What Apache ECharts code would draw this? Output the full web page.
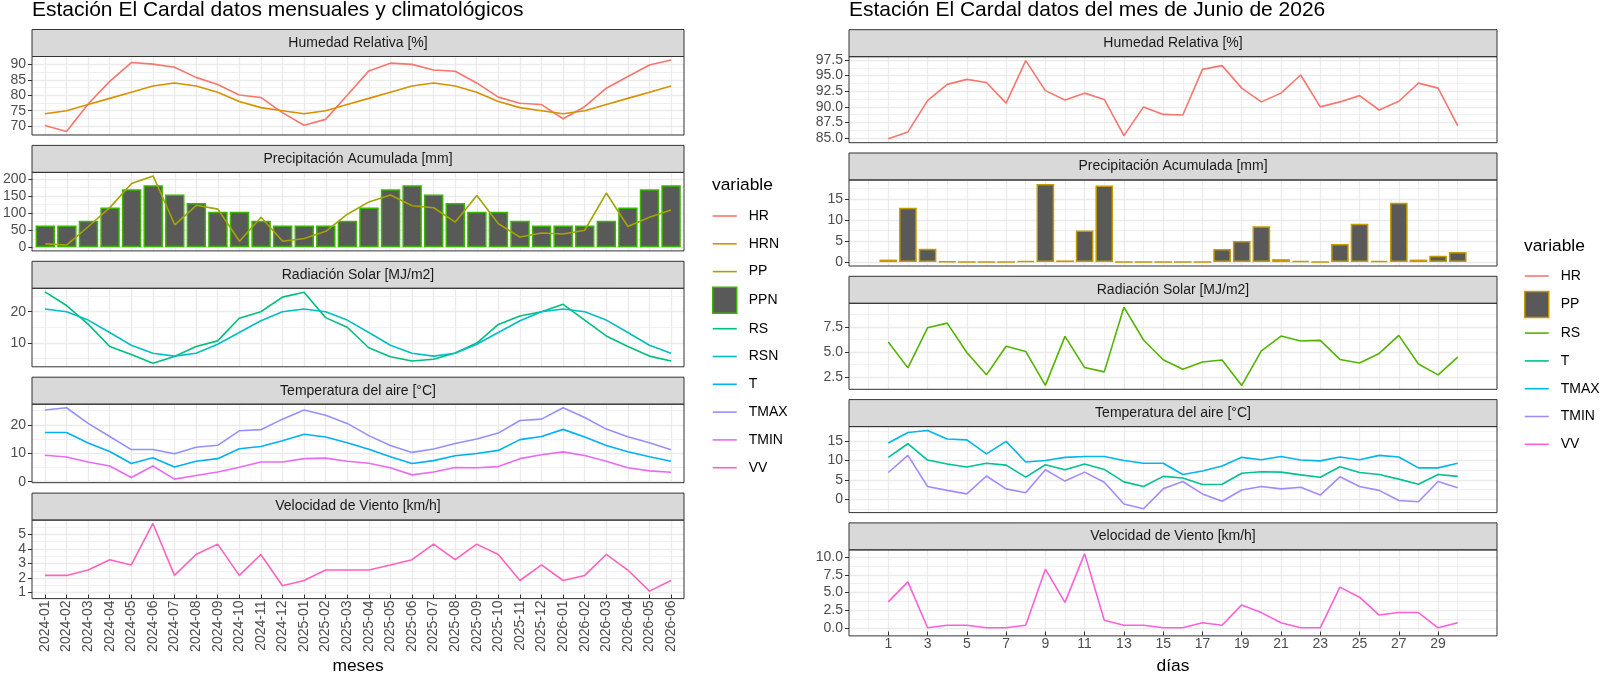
<!DOCTYPE html>
<html>
<head>
<meta charset="utf-8">
<script src="https://cdn.jsdelivr.net/npm/echarts@6/dist/echarts.min.js"></script>
<style>
  html, body { margin: 0; padding: 0; background: #fff; }
  #chart { width: 1600px; height: 676px; }
</style>
</head>
<body>
<div id="chart"></div>
<script>
// ---------------- datos mensuales (2024-01 .. 2026-06)
var meses = ['2024-01','2024-02','2024-03','2024-04','2024-05','2024-06','2024-07','2024-08','2024-09','2024-10','2024-11','2024-12',
             '2025-01','2025-02','2025-03','2025-04','2025-05','2025-06','2025-07','2025-08','2025-09','2025-10','2025-11','2025-12',
             '2026-01','2026-02','2026-03','2026-04','2026-05','2026-06'];
var hr   = [70.2, 68.3, 77.2, 84.5, 90.6, 90.1, 89.1, 85.8, 83.5, 80.1, 79.3, 74.4, 70.3, 72.2, 80.0, 87.9, 90.4, 90.0, 88.2, 87.8, 84.0, 79.4, 77.4, 77.0, 72.4, 76.3, 82.3, 86.1, 89.8, 91.4];
var hrn  = [74, 75, 77, 79, 81, 83, 84, 83, 81, 78, 76, 75, 74, 75, 77, 79, 81, 83, 84, 83, 81, 78, 76, 75, 74, 75, 77, 79, 81, 83];
var pp   = [10, 7, 61, 117, 187, 209, 66, 123, 112, 18, 88, 18, 26, 47, 97, 133, 153, 122, 116, 74, 152, 69, 30, 42, 39, 50, 159, 61, 88, 109];
var ppn  = [64, 64, 78, 117, 170, 182, 155, 130, 104, 104, 78, 64, 64, 64, 78, 117, 170, 182, 155, 130, 104, 104, 78, 64, 64, 64, 78, 117, 170, 182];
var rs   = [26.4, 22.0, 16.0, 8.8, 6.2, 3.4, 5.6, 8.8, 10.6, 17.9, 20.0, 24.7, 26.3, 18.1, 15.0, 8.4, 5.5, 4.1, 4.7, 6.7, 9.9, 15.9, 18.6, 20.0, 22.4, 17.3, 12.2, 8.8, 5.7, 4.1];
var rsn  = [20.9, 20.0, 17.3, 13.3, 9.2, 6.6, 5.7, 6.6, 9.5, 13.3, 17.1, 20.0, 20.9, 20.0, 17.3, 13.3, 9.2, 6.6, 5.7, 6.6, 9.5, 13.3, 17.1, 20.0, 20.9, 20.0, 17.3, 13.3, 9.2, 6.6];
var t    = [17.3, 17.3, 13.6, 10.6, 6.4, 8.4, 5.2, 7.2, 8.1, 11.6, 12.4, 14.4, 16.7, 15.7, 13.7, 11.4, 8.8, 6.4, 7.4, 9.1, 9.9, 11.0, 14.8, 15.9, 18.4, 15.7, 12.7, 10.5, 8.8, 7.2];
var tmax = [25.2, 26.0, 20.5, 15.9, 11.3, 11.3, 9.8, 12.1, 12.8, 17.9, 18.3, 22.0, 25.2, 23.4, 20.5, 16.2, 12.7, 10.3, 11.5, 13.4, 15.0, 17.1, 21.5, 22.0, 26.0, 22.6, 18.5, 15.8, 13.7, 11.2];
var tmin = [9.3, 8.7, 6.9, 5.5, 1.5, 5.5, 0.9, 2.2, 3.4, 5.1, 6.9, 6.9, 8.1, 8.3, 7.2, 6.5, 4.9, 2.4, 3.4, 5.0, 4.9, 5.3, 8.1, 9.5, 10.5, 9.2, 7.2, 4.9, 3.8, 3.3];
var vv   = [2.18, 2.18, 2.55, 3.26, 2.9, 5.75, 2.18, 3.62, 4.33, 2.18, 3.62, 1.47, 1.83, 2.55, 2.55, 2.55, 2.9, 3.26, 4.33, 3.26, 4.33, 3.62, 1.83, 2.9, 1.83, 2.18, 3.62, 2.55, 1.1, 1.83];

// ---------------- datos diarios de junio 2026
var dias  = [1,2,3,4,5,6,7,8,9,10,11,12,13,14,15,16,17,18,19,20,21,22,23,24,25,26,27,28,29,30];
var hrD   = [84.9, 86.0, 91.0, 93.6, 94.4, 93.9, 90.6, 97.4, 92.6, 91.1, 92.2, 91.2, 85.4, 90.0, 88.8, 88.7, 96.0, 96.6, 93.0, 90.8, 92.2, 95.1, 90.0, 90.8, 91.8, 89.5, 90.9, 93.8, 93.0, 87.0];
var ppD   = [0.6, 12.9, 3.2, 0.15, 0, 0, 0, 0.3, 18.6, 0.4, 7.5, 18.2, 0, 0, 0, 0, 0, 3.1, 5.0, 8.5, 0.7, 0.3, 0, 4.3, 9.1, 0.3, 14.1, 0.6, 1.5, 2.4];
var rsD   = [6.0, 3.4, 7.43, 7.9, 4.95, 2.7, 5.58, 5.05, 1.64, 6.57, 3.43, 3.0, 9.5, 6.2, 4.22, 3.26, 3.99, 4.19, 1.64, 5.12, 6.6, 6.1, 6.17, 4.25, 3.89, 4.85, 6.67, 3.79, 2.7, 4.48];
var tD    = [10.8, 14.3, 10.1, 9.1, 8.3, 9.3, 8.8, 5.7, 8.9, 7.6, 9.1, 7.7, 4.5, 3.3, 5.9, 5.5, 3.8, 3.9, 6.7, 7.1, 7.0, 6.3, 5.7, 8.4, 6.9, 6.4, 5.2, 3.9, 6.4, 5.9];
var tmaxD = [14.5, 17.2, 17.7, 15.5, 15.3, 11.7, 14.9, 9.6, 10.0, 10.8, 11.0, 11.0, 10.0, 9.3, 9.3, 6.4, 7.3, 8.6, 10.8, 10.2, 11.0, 10.1, 9.9, 10.9, 10.2, 11.3, 10.9, 8.1, 8.1, 9.3];
var tminD = [6.9, 11.3, 3.3, 2.3, 1.4, 6.0, 2.7, 1.7, 7.6, 4.7, 7.0, 4.4, -1.2, -2.4, 2.7, 4.6, 1.4, -0.5, 2.4, 3.3, 2.7, 3.1, 1.1, 5.8, 3.3, 2.3, -0.3, -0.6, 4.6, 3.0];
var vvD   = [3.67, 6.5, 0, 0.36, 0.36, 0, 0, 0.36, 8.3, 3.6, 10.5, 1.07, 0.36, 0.36, 0, 0, 0.72, 0.36, 3.24, 2.15, 0.72, 0, 0, 5.76, 4.33, 1.8, 2.16, 2.16, 0, 0.72];

// ---------------- estilo y disposición
var FONT = '"Liberation Sans", Arial, sans-serif';
var STRIP = 27;
var LADO_M = { left: 32, width: 652, top0: 56.5, step: 115.9, height: 78.5 };  // mensual
var LADO_D = { left: 849, width: 648, top0: 56.7, step: 123.3, height: 86 };   // diario
// línea de leyenda: los puntos sueltos arriba y abajo fijan la caja del icono
var LINE_ICON = 'path://M0,0L0,0M0,12.2H24V13.8H0ZM0,26L0,26';

var paneles = [
  { lado: LADO_M, fila: 0, titulo: 'Humedad Relativa [%]', paso: 5, dec: 0,
    series: [['HR', hr, '#F8766D'], ['HRN', hrn, '#D89000']] },
  { lado: LADO_M, fila: 1, titulo: 'Precipitación Acumulada [mm]', paso: 50, dec: 0,
    barras: ['PPN', ppn, '#39B600'], series: [['PP', pp, '#A3A500']] },
  { lado: LADO_M, fila: 2, titulo: 'Radiación Solar [MJ/m2]', paso: 10, dec: 0,
    series: [['RS', rs, '#00BF7D'], ['RSN', rsn, '#00BFC4']] },
  { lado: LADO_M, fila: 3, titulo: 'Temperatura del aire [°C]', paso: 10, dec: 0,
    series: [['T', t, '#00B0F6'], ['TMAX', tmax, '#9590FF'], ['TMIN', tmin, '#E76BF3']] },
  { lado: LADO_M, fila: 4, titulo: 'Velocidad de Viento [km/h]', paso: 1, dec: 0,
    series: [['VV', vv, '#FF62BC']] },

  { lado: LADO_D, fila: 0, titulo: 'Humedad Relativa [%]', paso: 2.5, dec: 1,
    series: [['HR (d)', hrD, '#F8766D']] },
  { lado: LADO_D, fila: 1, titulo: 'Precipitación Acumulada [mm]', paso: 5, dec: 0,
    barras: ['PP (d)', ppD, '#C49A00'], series: [] },
  { lado: LADO_D, fila: 2, titulo: 'Radiación Solar [MJ/m2]', paso: 2.5, dec: 1,
    series: [['RS (d)', rsD, '#53B400']] },
  { lado: LADO_D, fila: 3, titulo: 'Temperatura del aire [°C]', paso: 5, dec: 0,
    series: [['T (d)', tD, '#00C094'], ['TMAX (d)', tmaxD, '#00B6EB'], ['TMIN (d)', tminD, '#A58AFF']] },
  { lado: LADO_D, fila: 4, titulo: 'Velocidad de Viento [km/h]', paso: 2.5, dec: 1,
    series: [['VV (d)', vvD, '#FB61D7']] }
];

// rango con expansión del 5% (como ggplot)
function rango(arrs, conCero) {
  var lo = Infinity, hi = -Infinity;
  arrs.forEach(function (a) { a.forEach(function (v) { lo = Math.min(lo, v); hi = Math.max(hi, v); }); });
  if (conCero) { lo = Math.min(lo, 0); hi = Math.max(hi, 0); }
  var pad = (hi - lo) * 0.05;
  return [lo - pad, hi + pad];
}
function multiplos(min, max, paso) {
  var out = [];
  for (var k = Math.ceil(min / paso - 1e-9); k * paso <= max + 1e-9; k++) out.push(+(k * paso).toFixed(6));
  return out;
}
function esMultiplo(v, paso) {
  return Math.abs(v / paso - Math.round(v / paso)) < 1e-6;
}

var indices = meses.map(function (m, i) { return i; });
var impares = dias.filter(function (d) { return d % 2 === 1; });

var grids = [], xAxes = [], yAxes = [], series = [], graphics = [];

paneles.forEach(function (p, k) {
  var lado = p.lado;
  var top = lado.top0 + lado.step * p.fila;
  var mensual = lado === LADO_M;
  var ultimo = p.fila === 4;

  grids.push({ left: lado.left, top: top, width: lado.width, height: lado.height, show: false });

  // eje x
  var xmin = mensual ? -0.6 : -1, xmax = mensual ? 29.6 : 32;
  var xa = {
    type: 'value', gridIndex: k, min: xmin, max: xmax,
    axisLine: { show: false, onZero: false },
    axisTick: { show: ultimo, length: 4, lineStyle: { color: '#333333' },
                customValues: mensual ? indices : impares },
    axisLabel: { show: ultimo, fontSize: 14, color: '#4D4D4D', fontFamily: FONT, margin: 6,
                 showMinLabel: true, showMaxLabel: true,
                 customValues: mensual ? indices : impares,
                 rotate: mensual ? 90 : 0,
                 formatter: mensual ? function (v) { return Number.isInteger(v) ? meses[v] : ''; }
                                    : function (v) { return (v >= 1 && v <= 29 && v % 2 === 1) ? String(v) : ''; } },
    splitLine: { show: true, lineStyle: { color: '#EBEBEB', width: 1.3 } },
    minorTick: { show: false, splitNumber: 2 },
    minorSplitLine: { show: !mensual, lineStyle: { color: '#EBEBEB', width: 0.7 } }
  };
  if (mensual) { xa.minInterval = 1; xa.maxInterval = 1; } else { xa.interval = 2; }
  if (ultimo) {
    xa.name = mensual ? 'meses' : 'días';
    xa.nameLocation = 'middle';
    xa.nameMoveOverlap = false;
    xa.nameGap = mensual ? 72 : 35;
    xa.nameTextStyle = { fontSize: 17.4, color: '#000000', fontFamily: FONT, verticalAlign: 'middle' };
  }
  xAxes.push(xa);

  // eje y
  var datos = p.series.map(function (s) { return s[1]; });
  if (p.barras) datos.push(p.barras[1]);
  var r = rango(datos, !!p.barras);
  var marcas = multiplos(r[0], r[1], p.paso);
  yAxes.push({
    type: 'value', gridIndex: k, min: r[0], max: r[1],
    minInterval: p.paso, maxInterval: p.paso,
    axisLine: { show: false, onZero: false },
    axisTick: { show: true, length: 4, lineStyle: { color: '#333333' }, customValues: marcas },
    axisLabel: { fontSize: 14, color: '#4D4D4D', fontFamily: FONT, margin: 6, customValues: marcas,
                 showMinLabel: true, showMaxLabel: true, hideOverlap: false,
                 formatter: function (v) { return esMultiplo(v, p.paso) ? v.toFixed(p.dec) : ''; } },
    splitLine: { show: true, lineStyle: { color: '#EBEBEB', width: 1.3 } },
    minorTick: { show: false, splitNumber: 2 },
    minorSplitLine: { show: true, lineStyle: { color: '#EBEBEB', width: 0.7 } }
  });

  var xs = mensual ? indices : dias;
  var anchoBanda = lado.width / (xmax - xmin);
  if (p.barras) {
    series.push({
      name: p.barras[0], type: 'bar', xAxisIndex: k, yAxisIndex: k,
      barWidth: anchoBanda * 0.9,
      itemStyle: { color: '#595959', borderColor: p.barras[2], borderWidth: 1.5 },
      data: p.barras[1].map(function (v, i) { return [xs[i], v]; })
    });
  }
  p.series.forEach(function (s) {
    series.push({
      name: s[0], type: 'line', xAxisIndex: k, yAxisIndex: k,
      symbol: 'none', color: s[2],
      lineStyle: { color: s[2], width: 1.6 },
      data: s[1].map(function (v, i) { return [xs[i], v]; })
    });
  });

  // franja del facet y borde del panel
  graphics.push({ type: 'rect', z: 50, silent: true,
    shape: { x: lado.left, y: top - STRIP, width: lado.width, height: STRIP },
    style: { fill: '#D9D9D9', stroke: '#333333', lineWidth: 1 } });
  graphics.push({ type: 'text', z: 51, silent: true,
    x: lado.left + lado.width / 2, y: top - STRIP / 2,
    style: { text: p.titulo, fill: '#1A1A1A', fontSize: 14, fontFamily: FONT, align: 'center', verticalAlign: 'middle' } });
  graphics.push({ type: 'rect', z: 60, silent: true,
    shape: { x: lado.left, y: top, width: lado.width, height: lado.height },
    style: { fill: 'none', stroke: '#333333', lineWidth: 1 } });
});

// títulos de las leyendas
graphics.push({ type: 'text', z: 51, x: 712, y: 185,
  style: { text: 'variable', fill: '#000', fontSize: 17.4, fontFamily: FONT, verticalAlign: 'middle' } });
graphics.push({ type: 'text', z: 51, x: 1524, y: 246,
  style: { text: 'variable', fill: '#000', fontSize: 17.4, fontFamily: FONT, verticalAlign: 'middle' } });

function itemsLeyenda(lista) {
  var out = [];
  lista.forEach(function (p) {
    if (p.barras) out.push({ name: p.barras[0], icon: 'rect',
      itemStyle: { color: '#595959', borderColor: p.barras[2], borderWidth: 1.5 } });
    p.series.forEach(function (s) {
      out.push({ name: s[0], icon: LINE_ICON, itemStyle: { color: s[2], borderWidth: 0 } });
    });
  });
  return out.sort(function (a, b) { return a.name < b.name ? -1 : 1; });
}

function leyenda(left, top, lista) {
  return {
    orient: 'vertical', left: left, top: top, padding: 0,
    itemWidth: 24, itemHeight: 26, itemGap: 1.8, selectedMode: false,
    textStyle: { fontSize: 14, color: '#000', fontFamily: FONT, padding: [0, 0, 0, 7] },
    formatter: function (n) { return n.split(' ')[0]; },
    data: itemsLeyenda(lista)
  };
}

var chart = echarts.init(document.getElementById('chart'), null, { renderer: 'canvas' });
chart.setOption({
  animation: false,
  backgroundColor: '#ffffff',
  textStyle: { fontFamily: FONT },
  title: [
    { text: 'Estación El Cardal datos mensuales y climatológicos', left: 32, top: 0, padding: 0,
      textStyle: { fontSize: 21, fontWeight: 'normal', color: '#000', fontFamily: FONT } },
    { text: 'Estación El Cardal datos del mes de Junio de 2026', left: 849, top: 0, padding: 0,
      textStyle: { fontSize: 21, fontWeight: 'normal', color: '#000', fontFamily: FONT } }
  ],
  legend: [
    leyenda(712, 203, paneles.slice(0, 5)),
    leyenda(1524, 263, paneles.slice(5))
  ],
  grid: grids,
  xAxis: xAxes,
  yAxis: yAxes,
  series: series,
  graphic: { elements: graphics }
});
</script>
</body>
</html>
